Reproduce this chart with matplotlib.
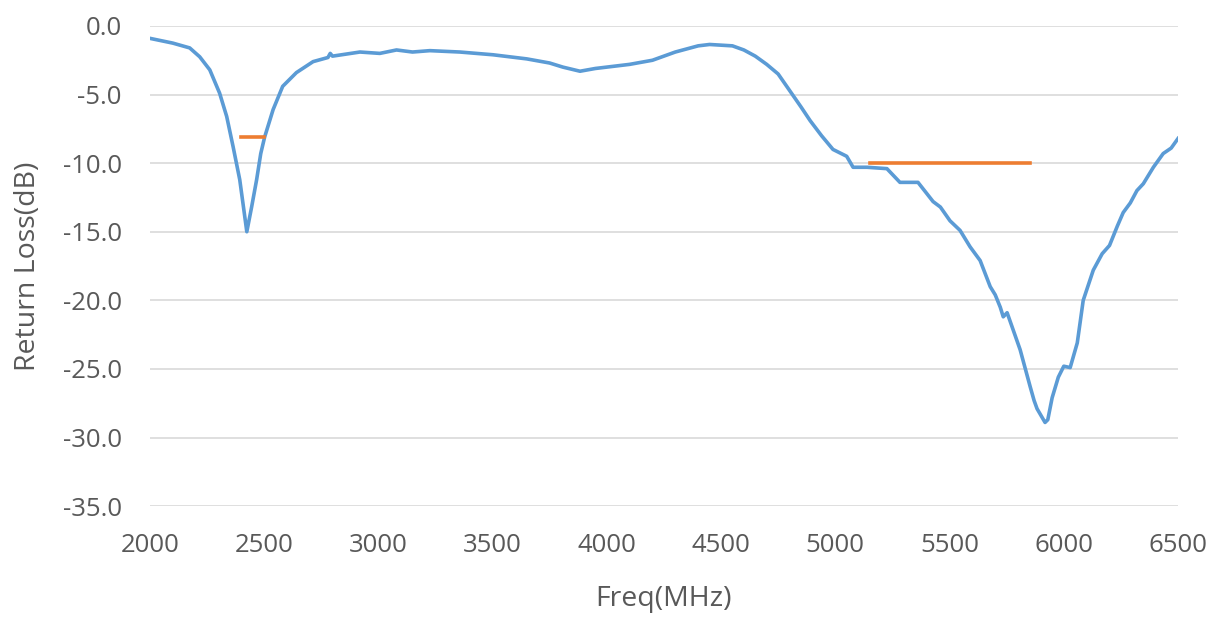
import matplotlib
matplotlib.use('Agg')
import matplotlib.pyplot as plt

freq_mhz = [2000, 2101, 2175, 2219, 2263, 2306, 2337, 2365, 2394, 2412, 2425,
            2446, 2468, 2486, 2503, 2540, 2582, 2642, 2715, 2780, 2790, 2800,
            2920, 3007, 3080, 3150, 3226, 3357, 3502, 3650, 3750, 3808, 3883,
            3950, 4000, 4100, 4200, 4300, 4400, 4450, 4500, 4550, 4600, 4650,
            4700, 4750, 4800, 4850, 4890, 4940, 4990, 5050, 5078, 5110, 5139,
            5226, 5283, 5362, 5428, 5460, 5502, 5546, 5590, 5634, 5678, 5700,
            5722, 5735, 5752, 5809, 5853, 5870, 5883, 5918, 5930, 5949, 5976,
            6000, 6028, 6059, 6085, 6129, 6168, 6200, 6234, 6260, 6291, 6320,
            6348, 6392, 6435, 6470, 6500]
return_loss = [-0.9, -1.25, -1.6, -2.25, -3.2, -4.9, -6.6, -8.8, -11.2, -13.4,
               -15.0, -13.2, -11.2, -9.3, -8.1, -6.1, -4.4, -3.4, -2.6, -2.3,
               -2.0, -2.2, -1.9, -2.0, -1.75, -1.9, -1.8, -1.9, -2.1, -2.4,
               -2.7, -3.0, -3.3, -3.1, -3.0, -2.8, -2.5, -1.9, -1.45, -1.35,
               -1.4, -1.45, -1.75, -2.2, -2.8, -3.5, -4.7, -5.9, -6.9, -8.0,
               -9.0, -9.5, -10.3, -10.3, -10.3, -10.4, -11.4, -11.4, -12.8,
               -13.2, -14.2, -14.9, -16.1, -17.1, -19.0, -19.6, -20.5, -21.2,
               -20.9, -23.6, -26.3, -27.3, -27.9, -28.9, -28.7, -27.1, -25.6,
               -24.8, -24.9, -23.1, -20.0, -17.8, -16.6, -16.0, -14.6, -13.6,
               -12.9, -12.0, -11.5, -10.3, -9.3, -8.9, -8.2]

# Target band limits
band1_freq = [2400, 2500]
band1_level = [-8.1, -8.1]
band2_freq = [5150, 5850]
band2_level = [-10.0, -10.0]

y_ticks = [0, -5, -10, -15, -20, -25, -30, -35]
x_ticks = [2000, 2500, 3000, 3500, 4000, 4500, 5000, 5500, 6000, 6500]

plt.rcParams['font.family'] = ['Open Sans', 'DejaVu Sans']

fig = plt.figure(figsize=(12.17, 6.18), dpi=100)
ax = fig.add_axes([0.123, 0.181, 0.845, 0.777])

ax.plot(freq_mhz, return_loss, color='#5B9BD5', linewidth=2.6, zorder=3)
ax.plot(band1_freq, band1_level, color='#ED7D31', linewidth=2.6, zorder=4)
ax.plot(band2_freq, band2_level, color='#ED7D31', linewidth=2.6, zorder=4)

ax.set_xlim(2000, 6500)
ax.set_ylim(-35, 0)
ax.set_xticks(x_ticks)
ax.set_yticks(y_ticks)
ax.set_yticklabels([f'{v:.1f}' for v in y_ticks])
ax.grid(axis='y', color='#D9D9D9', linewidth=1.2)
ax.set_axisbelow(True)
for s in ax.spines.values():
    s.set_visible(False)
ax.tick_params(length=0, labelsize=18.5, colors='#595959')
ax.tick_params(axis='y', pad=20)
ax.tick_params(axis='x', pad=19)
ax.set_xlabel('Freq(MHz)', fontsize=20.5, color='#595959', labelpad=20)
ax.set_ylabel('Return Loss(dB)', fontsize=20.5, color='#595959', labelpad=15)

fig.savefig('out.png', dpi=100, facecolor='white')
